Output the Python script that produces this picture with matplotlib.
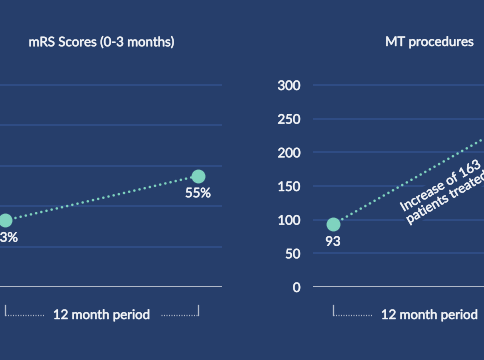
import matplotlib
matplotlib.use("Agg")
import matplotlib.pyplot as plt
import matplotlib.transforms as mtransforms
import matplotlib.patheffects as pe

# data
periods = [0, 1]
mrs_values = [33, 55]
mrs_labels = ["33%", "55%"]
mrs_ticks = [0, 20, 40, 60, 80, 100]
mrs_ticklabels = ["0%", "20%", "40%", "60%", "80%", "100%"]

mt_values = [93, 256]
mt_labels = ["93", "256"]
mt_ticks = [0, 50, 100, 150, 200, 250, 300]
mt_note = "Increase of 163\npatients treated"

titles = ["mRS Scores (0-3 months)", "MT procedures"]
period_text = "12 month period"

# style
bg = "#263e6b"
grid_c = "#31508a"
base_c = "#b4bccb"
mint = "#7fd3bf"
txt = "#f2f4f7"
thick = [pe.withStroke(linewidth=0.3, foreground=txt)]

plt.rcParams["font.family"] = ["Lato", "DejaVu Sans"]
W, H = 485, 360
fig = plt.figure(figsize=(W / 100, H / 100), dpi=100, facecolor=bg)

def px_axes(left, bottom_px, width, height):
    return fig.add_axes([left / W, (H - bottom_px) / H, width / W, height / H])

axw = 241
axh = 202 * 1.02
ax1 = px_axes(-19, 287, axw, axh)
ax2 = px_axes(313, 287, axw, axh)


def draw_panel(ax, values, labels, ticks, ticklabels, title, xlim):
    ax.set_facecolor(bg)
    top = ticks[-1]
    ax.set_ylim(0, top * 1.02)
    ax.set_xlim(*xlim)
    for s in ax.spines.values():
        s.set_visible(False)
    for t in ticks[1:]:
        ax.axhline(t, color=grid_c, lw=1.2, zorder=1)
    ax.axhline(0, color=base_c, lw=1.4, zorder=2)
    ax.set_xticks([])
    ax.set_yticks(ticks)
    ax.set_yticklabels(ticklabels)
    ax.tick_params(axis="y", length=0, pad=9, labelsize=9.5, labelcolor=txt)
    for lab in ax.get_yticklabels():
        lab.set_path_effects(thick)

    ax.plot(periods, values, color=mint, lw=1.9, linestyle=(0, (0.01, 2.0)),
            dash_capstyle="round", zorder=3)
    ax.plot(periods, values, "o", color=mint, ms=9, zorder=4)
    for x, v, lab in zip(periods, values, labels):
        ax.annotate(lab, (x, v), xytext=(0, -12.5), textcoords="offset points",
                    ha="center", va="center", color=txt, fontsize=9.5, zorder=5,
                    path_effects=thick)

    tr = mtransforms.blended_transform_factory(ax.transData, ax.transAxes)
    ax.text(0.5, 1.213 / 1.02, title, transform=tr,
            ha="center", va="center", color=txt, fontsize=9.5, path_effects=thick)

    # bracket under the period
    y_top = -18 / axh
    y_bot = -28 / axh
    ax.plot([0, 0], [y_top, y_bot], color=base_c, lw=0.9, transform=tr, clip_on=False)
    ax.plot([1, 1], [y_top, y_bot], color=base_c, lw=0.9, transform=tr, clip_on=False)
    ax.plot([0, 0.2], [y_bot, y_bot], color=base_c, lw=0.9, linestyle=(0, (0.8, 1.2)),
            transform=tr, clip_on=False)
    ax.plot([0.81, 1], [y_bot, y_bot], color=base_c, lw=0.9, linestyle=(0, (0.8, 1.2)),
            transform=tr, clip_on=False)
    ax.text(0.5, y_bot, period_text, transform=tr, ha="center", va="center",
            color=txt, fontsize=9.5, path_effects=thick)


draw_panel(ax1, mrs_values, mrs_labels, mrs_ticks, mrs_ticklabels, titles[0], (-0.125, 1.124))
draw_panel(ax2, mt_values, mt_labels, mt_ticks, [str(t) for t in mt_ticks], titles[1], (-0.104, 1.145))

ax2.text(0.575, 142, mt_note, rotation=30, rotation_mode="anchor", ha="center", va="center",
         color=txt, fontsize=9.5, linespacing=1.1, zorder=5, path_effects=thick,
         bbox=dict(boxstyle="square,pad=0.15", facecolor=bg, edgecolor="none"))

fig.savefig("out.png", dpi=100, facecolor=bg)
